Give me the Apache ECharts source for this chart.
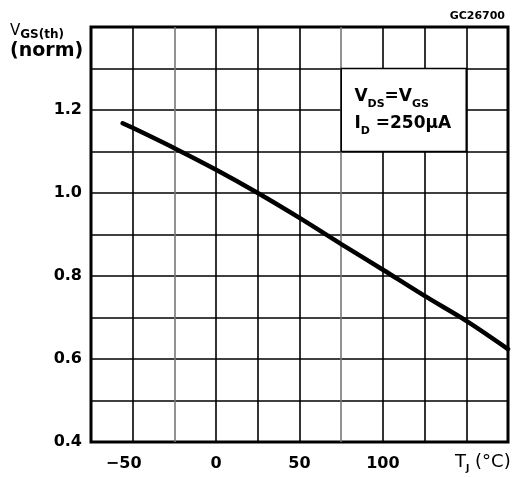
<!DOCTYPE html>
<html><head><meta charset="utf-8">
<script src="https://cdn.jsdelivr.net/npm/echarts@6/dist/echarts.min.js"></script>
<style>html,body{margin:0;padding:0;background:#fff}#c{width:521px;height:477px}</style>
</head><body><div id="c"></div>
<script>
// Junction temperature (°C) and normalized gate threshold voltage
const temps = [-56, -50, -25, 0, 25, 50, 75, 100, 125, 150, 175];
const vgsNorm = [1.168, 1.157, 1.108, 1.056, 1.0, 0.94, 0.877, 0.815, 0.752, 0.692, 0.624];
const xTickLabels = ['-50', '0', '50', '100'];
const yTickLabels = ['0.4', '0.6', '0.8', '1.0', '1.2'];
const FONT = 'DejaVu Sans';

const chart = echarts.init(document.getElementById('c'), null, {renderer: 'canvas'});
const vColors = ['#000', '#000', '#777', '#000', '#000', '#000', '#777', '#000', '#000', '#000', '#000'];

chart.setOption({
  animation: false,
  backgroundColor: '#fff',
  grid: {left: 91, right: 13, top: 27, bottom: 35, show: true, borderColor: '#000', borderWidth: 3, backgroundColor: 'transparent'},
  xAxis: {
    type: 'value', min: -75, max: 175, interval: 25,
    axisLine: {show: false}, axisTick: {show: false},
    splitLine: {show: true, lineStyle: {color: vColors, width: 1.6}},
    axisLabel: {
      margin: 14, color: '#000', fontFamily: FONT, fontWeight: 'bold', fontSize: 16,
      formatter: v => {
        const s = String(Math.round(v));
        if (!xTickLabels.includes(s)) return '';
        return s === '-50' ? '{m|−50}' : s;
      },
      rich: {m: {padding: [0, 18, 0, 0], fontFamily: FONT, fontWeight: 'bold', fontSize: 16, color: '#000'}}
    }
  },
  yAxis: {
    type: 'value', min: 0.4, max: 1.4, interval: 0.1,
    axisLine: {show: false}, axisTick: {show: false},
    splitLine: {show: true, lineStyle: {color: '#000', width: 1.6}},
    axisLabel: {
      margin: 9, color: '#000', fontFamily: FONT, fontWeight: 'bold', fontSize: 16,
      formatter: v => { const s = v.toFixed(1); return yTickLabels.includes(s) ? s : ''; }
    }
  },
  series: [{
    type: 'line',
    data: temps.map((t, i) => [t, vgsNorm[i]]),
    smooth: 0.3, showSymbol: false, symbol: 'none',
    lineStyle: {color: '#000', width: 4.5, cap: 'round'},
    z: 5,
    markArea: {
      silent: true,
      itemStyle: {color: '#fff', borderColor: '#000', borderWidth: 1.6},
      label: {
        show: true, position: [14, 15], align: 'left', verticalAlign: 'top',
        formatter: '{b|V}{s|DS}{b|=V}{s|GS}\n{b|I}{s|D}{b| =250μA}',
        rich: {
          b: {fontFamily: FONT, fontSize: 17, fontWeight: 'bold', color: '#000', lineHeight: 27},
          s: {fontFamily: FONT, fontSize: 11, fontWeight: 'bold', color: '#000', lineHeight: 27, verticalAlign: 'bottom'}
        }
      },
      data: [[{xAxis: 75, yAxis: 1.3}, {xAxis: 150, yAxis: 1.1}]]
    }
  }],
  graphic: [
    {type: 'text', right: 16, top: 11, style: {text: 'GC26700', font: 'bold 11px "DejaVu Sans"', fill: '#000'}},
    {type: 'text', left: 10, top: 24, style: {
      text: '{v|V}{s|GS(th)}\n{n|(norm)}',
      rich: {
        v: {fontFamily: FONT, fontSize: 15, color: '#000', lineHeight: 18},
        s: {fontFamily: FONT, fontSize: 12, fontWeight: 'bold', color: '#000', lineHeight: 18, verticalAlign: 'bottom'},
        n: {fontFamily: FONT, fontSize: 19, fontWeight: 'bold', color: '#000', lineHeight: 22}
      }
    }},
    {type: 'text', left: 455, top: 453, style: {
      text: '{b|T}{s|J}{b| (°C)}',
      rich: {
        b: {fontFamily: FONT, fontSize: 18, color: '#000', lineHeight: 22},
        s: {fontFamily: FONT, fontSize: 9, fontWeight: 'bold', color: '#000', lineHeight: 22, verticalAlign: 'bottom'}
      }
    }}
  ]
});
</script></body></html>
